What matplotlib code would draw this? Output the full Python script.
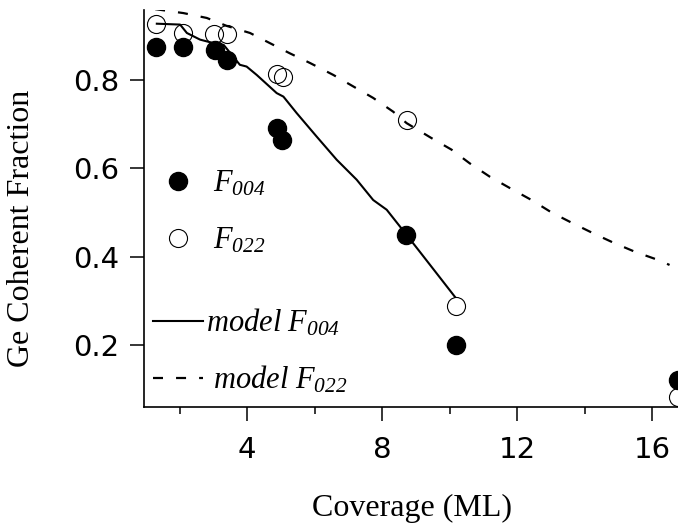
import matplotlib
matplotlib.use("Agg")
import matplotlib.pyplot as plt
from matplotlib.lines import Line2D
from matplotlib.ticker import MultipleLocator

# ---- data ----
cov_f004 = [1.30, 2.09, 3.04, 3.41, 4.89, 5.02, 8.70, 10.18, 16.75]
f004 = [0.875, 0.875, 0.868, 0.844, 0.691, 0.664, 0.449, 0.201, 0.121]

cov_f022 = [1.30, 2.09, 3.01, 3.41, 4.89, 5.05, 8.72, 10.18, 16.75]
f022 = [0.927, 0.906, 0.904, 0.904, 0.814, 0.807, 0.708, 0.288, 0.082]

model_x004 = [1.32, 2.01, 2.21, 2.60, 2.95, 3.30, 3.78, 3.98, 4.28, 4.87, 5.07,
              5.46, 6.05, 6.65, 7.24, 7.73, 8.13, 8.72, 9.11, 9.61, 10.15]
model_f004 = [0.927, 0.925, 0.906, 0.891, 0.884, 0.879, 0.834, 0.830, 0.811, 0.770, 0.762,
              0.725, 0.672, 0.619, 0.574, 0.528, 0.506, 0.449, 0.411, 0.362, 0.309]

model_x022 = [1.27, 2.11, 2.80, 3.39, 4.08, 4.67, 5.26, 5.86, 6.55, 7.14, 7.73, 8.32,
              8.72, 9.46, 10.05, 10.59, 11.18, 11.78, 12.42, 13.01, 13.60, 14.24,
              14.83, 15.48, 16.22, 16.51]
model_f022 = [0.960, 0.951, 0.940, 0.922, 0.906, 0.883, 0.860, 0.838, 0.811, 0.785, 0.759, 0.728,
              0.702, 0.668, 0.642, 0.611, 0.581, 0.555, 0.528, 0.500, 0.477, 0.453,
              0.432, 0.411, 0.391, 0.381]

xticks = [4, 8, 12, 16]
yticks = [0.2, 0.4, 0.6, 0.8]

plt.rcParams['lines.scale_dashes'] = False
plt.rcParams['mathtext.fontset'] = 'custom'
plt.rcParams['mathtext.it'] = 'Liberation Serif:italic'
plt.rcParams['mathtext.rm'] = 'Liberation Serif:italic'
plt.rcParams['mathtext.default'] = 'it'

fig = plt.figure(figsize=(6.78, 5.27), dpi=100)
ax = fig.add_axes([144/678, 1-407/527, 534/678, 397/527])

dash = (7.2, 9.4)
ax.plot(model_x004, model_f004, color='black', lw=1.5)
ax.plot(model_x022, model_f022, color='black', lw=1.6, dashes=dash)
ax.plot(cov_f022, f022, 'o', ms=13, mfc='none', mec='black', mew=0.8, ls='none')
ax.plot(cov_f004, f004, 'o', ms=13, mfc='black', mec='black', ls='none')

ax.set_xlim(0.94, 16.76)
ax.set_ylim(0.0596, 0.958)
ax.set_xticks(xticks)
ax.set_yticks(yticks)
ax.set_xticklabels([str(t) for t in xticks])
ax.set_yticklabels([f"{t:.1f}" for t in yticks])
ax.xaxis.set_minor_locator(MultipleLocator(2))

for s in ['top', 'right']:
    ax.spines[s].set_visible(False)
for s in ['left', 'bottom']:
    ax.spines[s].set_linewidth(1.2)

ax.tick_params(axis='both', which='major', direction='out', length=10, width=1.1,
               labelsize=21)
ax.tick_params(axis='x', which='major', pad=11)
ax.tick_params(axis='y', which='major', pad=8)
ax.tick_params(axis='x', which='minor', direction='out', length=5, width=1.1)
for lab in ax.get_xticklabels() + ax.get_yticklabels():
    lab.set_fontfamily('DejaVu Sans')

fig.text(412/678, 1-508/527, 'Coverage (ML)', family='Liberation Serif',
         fontsize=23, ha='center', va='center')
fig.text(21.7/678, 1-228.5/527, 'Ge Coherent Fraction', family='Liberation Serif',
         fontsize=23, ha='center', va='center', rotation=90)

h1 = Line2D([], [], marker='o', ms=13, mfc='black', mec='black', ls='none')
h2 = Line2D([], [], marker='o', ms=13, mfc='none', mec='black', mew=0.8, ls='none')
leg1 = ax.legend([h1, h2], [r'$\ F_{004}$', r'$\ F_{022}$'],
                 loc='center left', bbox_to_anchor=(9/534, (407-211.7)/397),
                 frameon=False, borderpad=0, borderaxespad=0, fontsize=22,
                 handlelength=1.64, handletextpad=0.1, labelspacing=0.9)
ax.add_artist(leg1)
h3 = Line2D([], [], color='black', lw=1.5)
h4 = Line2D([], [], color='black', lw=1.6, dashes=dash)
leg2 = ax.legend([h3, h4], [r'$model\ F_{004}$', r'$\ model\ F_{022}$'],
                 loc='center left', bbox_to_anchor=(9/534, (407-351)/397),
                 frameon=False, borderpad=0, borderaxespad=0, fontsize=22,
                 handlelength=1.64, handletextpad=0.1, labelspacing=0.85)

fig.savefig('out.png', dpi=100)
